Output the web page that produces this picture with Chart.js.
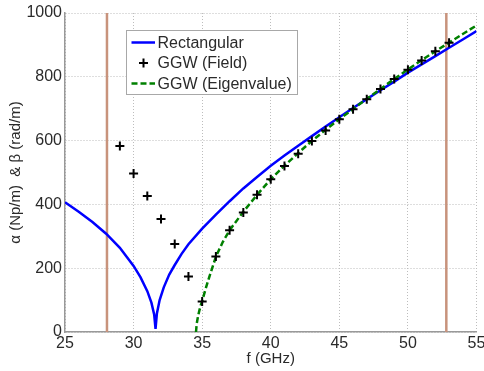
<!DOCTYPE html>
<html>
<head>
<meta charset="utf-8">
<script src="https://cdn.jsdelivr.net/npm/chart.js@4/dist/chart.umd.min.js"></script>
<style>
  body { margin: 0; background: #fff; }
  canvas { display: block; }
</style>
</head>
<body>
<canvas id="dispersion" width="484" height="371"></canvas>
<script>
// values
const rectFreq  = [25, 26, 27, 28, 29, 30, 30.5, 31, 31.3, 31.5, 31.6, 31.7, 31.9, 32.2, 32.6, 33, 33.5, 34, 35, 36, 37, 38, 39, 40, 41, 42, 43, 44, 45, 46, 47, 48, 49, 50, 51, 52, 53, 54, 55];
const rectValue = [407, 377, 345, 308, 264, 207, 172, 128, 92, 55, 10, 58, 100, 140, 180, 210, 245, 275, 324, 368, 410, 450, 486, 521, 553, 584, 614, 644, 673, 702, 730, 758, 785, 813, 839, 865, 891, 917, 943];

const fieldFreq  = [29, 30, 31, 32, 33, 34, 35, 36, 37, 38, 39, 40, 41, 42, 43, 44, 45, 46, 47, 48, 49, 50, 51, 52, 53];
const fieldValue = [583, 497, 426, 354, 276, 174, 96, 237, 319, 375, 430, 479, 520, 559, 599, 632, 667, 698, 730, 762, 793, 822, 851, 880, 907];

const eigenFreq  = [34.55, 34.6, 34.7, 34.8, 34.9, 35, 35.25, 35.5, 36, 36.5, 37, 38, 39, 40, 41, 42, 43, 44, 45, 46, 47, 48, 49, 50, 51, 52, 53, 54, 55];
const eigenValue = [0, 25, 50, 68, 84, 97, 135, 170, 236, 282, 319, 377, 430, 479, 521, 561, 599, 634, 667, 699, 731, 762, 793, 823, 852, 880, 907, 934, 961];

const bandEdges = [28.06, 52.8];   // vertical markers (GHz)
const lineSpan = [0, 1000];

const xTicks = [25, 30, 35, 40, 45, 50, 55];
const yTicks = [0, 200, 400, 600, 800, 1000];

const pts = (xs, ys) => xs.map((x, i) => ({x: x, y: ys[i]}));

const textColor = '#2a2a2a';
const fontFamily = '"Liberation Sans", Arial, Helvetica, sans-serif';

// legend drawn inside the plot, like the matlab one
const legendBox = {
    id: 'legendBox',
    afterDraw(chart) {
        const ctx = chart.ctx;
        const x0 = 126, y0 = 30, w = 171, h = 64;
        const rows = [42.5, 63, 83.5];
        const items = chart.data.datasets.slice(0, 3);
        ctx.save();
        ctx.fillStyle = '#fff';
        ctx.fillRect(x0, y0, w, h);
        ctx.strokeStyle = '#a8a8a8';
        ctx.lineWidth = 1;
        ctx.strokeRect(x0 + 0.5, y0 + 0.5, w, h);
        items.forEach((ds, i) => {
            const y = rows[i];
            ctx.strokeStyle = ds.borderColor;
            ctx.lineWidth = ds.borderWidth;
            if (ds.showLine === false) {
                ctx.setLineDash([]);
                ctx.beginPath();
                ctx.moveTo(139, y); ctx.lineTo(148, y);
                ctx.moveTo(143.5, y - 4.5); ctx.lineTo(143.5, y + 4.5);
                ctx.stroke();
            } else {
                ctx.setLineDash(ds.borderDash || []);
                ctx.beginPath();
                ctx.moveTo(131.5, y); ctx.lineTo(155, y);
                ctx.stroke();
            }
            ctx.setLineDash([]);
            ctx.fillStyle = textColor;
            ctx.font = '16px ' + fontFamily;
            ctx.textBaseline = 'middle';
            ctx.fillText(ds.label, 157.5, y + 1);
        });
        ctx.restore();
    }
};

new Chart(document.getElementById('dispersion'), {
    type: 'line',
    data: {
        datasets: [
            {
                label: 'Rectangular',
                data: pts(rectFreq, rectValue),
                borderColor: '#0000ff',
                borderWidth: 2.5,
                pointRadius: 0,
                order: 2
            },
            {
                label: 'GGW (Field)',
                data: pts(fieldFreq, fieldValue),
                showLine: false,
                pointStyle: 'cross',
                pointRadius: 4.5,
                borderColor: '#000000',
                borderWidth: 2,
                order: 0
            },
            {
                label: 'GGW (Eigenvalue)',
                data: pts(eigenFreq, eigenValue),
                borderColor: '#008000',
                borderWidth: 2.5,
                borderDash: [6, 3],
                pointRadius: 0,
                order: 1
            },
            {
                label: 'edge1',
                data: pts([bandEdges[0], bandEdges[0]], lineSpan),
                borderColor: '#c8937c',
                borderWidth: 2.5,
                pointRadius: 0,
                order: 3
            },
            {
                label: 'edge2',
                data: pts([bandEdges[1], bandEdges[1]], lineSpan),
                borderColor: '#c8937c',
                borderWidth: 2.5,
                pointRadius: 0,
                order: 3
            }
        ]
    },
    options: {
        responsive: false,
        animation: false,
        devicePixelRatio: 1,
        layout: { padding: { top: 13, right: 0, left: 0, bottom: 0 } },
        elements: { line: { tension: 0 } },
        plugins: {
            legend: { display: false },
            tooltip: { enabled: false }
        },
        scales: {
            x: {
                type: 'linear',
                min: 25, max: 55,
                afterBuildTicks: (scale) => { scale.ticks = xTicks.map(v => ({value: v})); },
                afterFit: (scale) => {
                    scale.height = 39;
                    scale.paddingLeft = 0;
                    scale.paddingRight = 7.5;
                },
                ticks: {
                    color: textColor,
                    font: { family: fontFamily, size: 16 },
                    padding: 2,
                    maxRotation: 0,
                    callback: (v) => String(v)
                },
                grid: { color: '#bdbdbd', lineWidth: 1, drawTicks: false },
                border: { color: '#999999', width: 1.5, dash: [1, 2] },
                title: {
                    display: true,
                    text: 'f (GHz)',
                    color: textColor,
                    font: { family: fontFamily, size: 15 },
                    padding: { top: 0, bottom: 3 }
                }
            },
            y: {
                type: 'linear',
                min: 0, max: 1000,
                afterBuildTicks: (scale) => { scale.ticks = yTicks.map(v => ({value: v})); },
                afterFit: (scale) => { scale.width = 65; },
                ticks: {
                    color: textColor,
                    font: { family: fontFamily, size: 16 },
                    padding: 3,
                    callback: (v) => String(v)
                },
                grid: { color: '#bdbdbd', lineWidth: 1, drawTicks: false },
                border: { color: '#999999', width: 1.5, dash: [1, 2] },
                title: {
                    display: true,
                    text: 'α (Np/m)  & β (rad/m)',
                    color: textColor,
                    font: { family: fontFamily, size: 15 },
                    padding: { top: 7, bottom: 0 }
                }
            }
        }
    },
    plugins: [legendBox]
});
</script>
</body>
</html>
